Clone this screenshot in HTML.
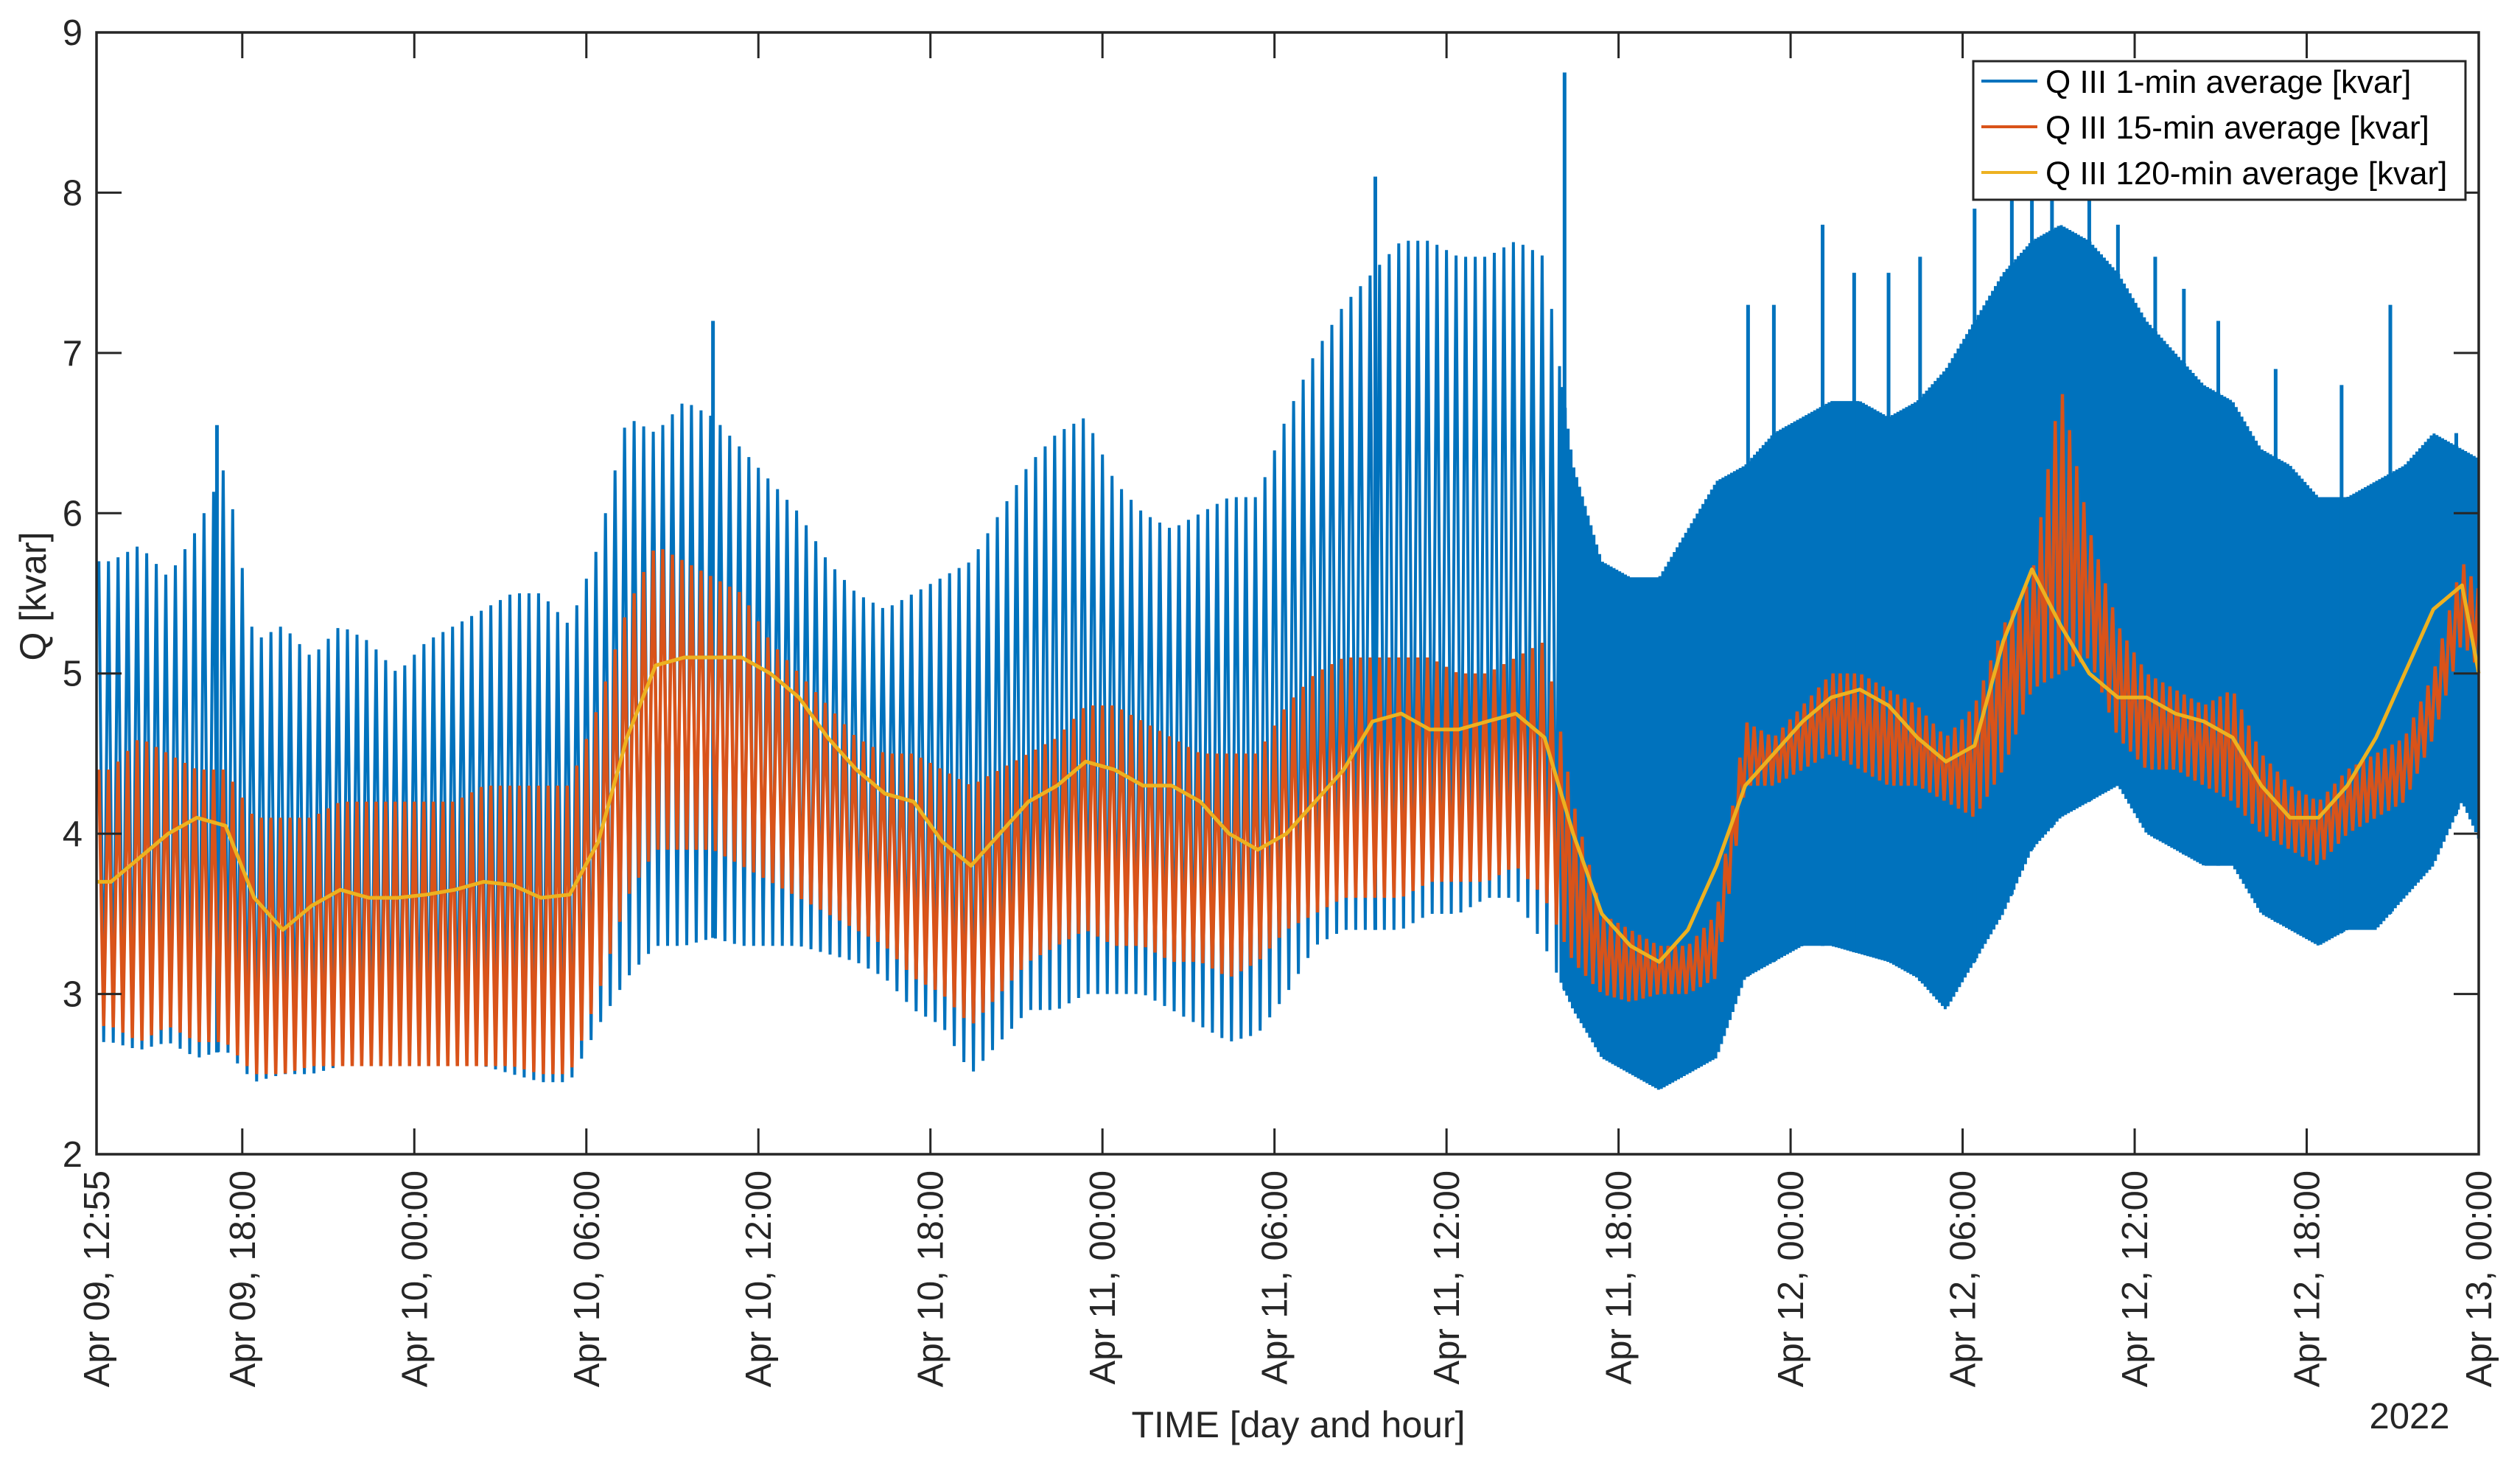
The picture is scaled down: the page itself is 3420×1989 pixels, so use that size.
<!DOCTYPE html>
<html><head><meta charset="utf-8"><style>
html,body{margin:0;padding:0;background:#fff;}
svg{display:block;font-family:"Liberation Sans",Arial,sans-serif;}
</style></head><body>
<svg id="chart" width="3420" height="1989" viewBox="0 0 3420 1989" xmlns="http://www.w3.org/2000/svg">
<rect x="0" y="0" width="3420" height="1989" fill="#fff"/>
<g id="plot"></g>
<g id="axes"></g>
<g id="legend"></g>
</svg>
<script>
// ---- data (hour bins from Apr 09 12:55) ----
const yTicks = [2,3,4,5,6,7,8,9];
const xTickHours = [0,5.0833,11.0833,17.0833,23.0833,29.0833,35.0833,41.0833,47.0833,53.0833,59.0833,65.0833,71.0833,77.0833,83.0833];
const xTickLabels = ["Apr 09, 12:55","Apr 09, 18:00","Apr 10, 00:00","Apr 10, 06:00","Apr 10, 12:00","Apr 10, 18:00","Apr 11, 00:00","Apr 11, 06:00","Apr 11, 12:00","Apr 11, 18:00","Apr 12, 00:00","Apr 12, 06:00","Apr 12, 12:00","Apr 12, 18:00","Apr 13, 00:00"];
const blueHi = [5.7,5.8,5.6,5.9,6.3, 5.2,5.3,5.1,5.3,5.2,5.0, 5.2,5.3,5.4,5.5,5.5,5.3, 5.8,6.6, 6.5,6.7,6.6,6.4, 6.2,6.0,5.7,5.5,5.4,5.5, 5.6,5.7,6.0,6.3,6.5,6.6, 6.2,6.0,5.9,6.0,6.1,6.1, 6.6,7.0,7.3,7.5,7.7,7.7, 7.6,7.6,7.7,7.6, 6.3, 5.7,5.6,5.6, 5.9,6.2, 6.3,6.5,6.6,6.7,6.7,6.6, 6.7,6.9, 7.2,7.5,7.7, 7.8,7.7,7.5, 7.2,7.0,6.8,6.7, 6.4,6.3,6.1, 6.1,6.2,6.3,6.5, 6.4,6.3];
const blueLo = [2.7,2.65,2.7,2.6,2.65, 2.45,2.5,2.5,2.55,2.55,2.55, 2.55,2.55,2.55,2.5,2.45,2.45, 2.8,3.1, 3.3,3.3,3.35,3.3, 3.3,3.3,3.25,3.2,3.1,2.9, 2.8,2.5,2.7,2.9,2.9,3.0, 3.0,3.0,2.9,2.8,2.7,2.75, 3.0,3.3,3.4,3.4,3.4,3.5, 3.5,3.6,3.6,3.3, 2.9, 2.6,2.5,2.4, 2.5,2.6, 3.1,3.2,3.3,3.3,3.25,3.2, 3.1,2.9, 3.2,3.5,3.9, 4.1,4.2,4.3, 4.0,3.9,3.8,3.8, 3.5,3.4,3.3, 3.4,3.4,3.6,3.8, 4.2,3.8];
const blueCycles = [3,3,3,3,3,3,3,3,3,3,3,3,3,3,3,3,3,3,3,3,3,3,3,3,3,3,3,3,3,3,3,3,3,3,3,3,3,3,3,3,3,3,3,3,3,3,3,3,3,3,3,10,10,10,10,10,10,10,10,10,10,10,10,10,10,10,10,10,10,10,10,10,10,10,10,10,10,10,10,10,10,10,10,10];
const spikeHours = [4.2,21.5,44.6,51.2,57.6,58.5,60.2,61.3,62.5,63.6,65.5,66.8,67.5,68.2,69.5,70.5,71.8,72.8,74.0,76.0,78.3,80.0,82.3];
const spikeVals = [6.55,7.2,8.1,8.75,7.3,7.3,7.8,7.5,7.5,7.6,7.9,8.0,8.5,8.2,8.2,7.8,7.6,7.4,7.2,6.9,6.8,7.3,6.5];
const orangeHi = [4.4,4.6,4.5,4.4,4.4, 4.1,4.1,4.1,4.2,4.2,4.2, 4.2,4.2,4.3,4.3,4.3,4.3, 4.8,5.4, 5.8,5.7,5.6,5.5, 5.2,5.0,4.8,4.6,4.5,4.5, 4.4,4.3,4.4,4.5,4.6,4.8, 4.8,4.7,4.6,4.5,4.5,4.5, 4.8,5.0,5.1,5.1,5.1,5.1, 5.0,5.0,5.1,5.2, 4.2, 3.5,3.4,3.3, 3.3,3.5, 4.7,4.6,4.8,5.0,5.0,4.9, 4.8,4.6, 4.8,5.3,5.6, 6.8,5.9,5.3, 5.0,4.9,4.8,4.9, 4.5,4.3,4.2, 4.4,4.5,4.6,5.0, 5.7,5.4];
const orangeLo = [2.8,2.7,2.8,2.7,2.7, 2.5,2.5,2.55,2.55,2.55,2.55, 2.55,2.55,2.55,2.55,2.5,2.5, 3.0,3.6, 3.9,3.9,3.9,3.8, 3.7,3.6,3.5,3.4,3.3,3.1, 3.0,2.8,3.0,3.2,3.3,3.4, 3.3,3.3,3.2,3.2,3.1,3.2, 3.4,3.5,3.6,3.6,3.6,3.7, 3.7,3.7,3.8,3.6, 3.2, 3.0,2.95,3.0, 3.0,3.1, 4.3,4.3,4.4,4.5,4.4,4.3, 4.3,4.2, 4.1,4.4,4.9, 5.0,5.1,4.6, 4.4,4.4,4.3,4.2, 4.0,3.9,3.8, 4.0,4.1,4.2,4.6, 5.2,4.9];
const orangeCycles = [3,3,3,3,3,3,3,3,3,3,3,3,3,3,3,3,3,3,3,3,3,3,3,3,3,3,3,3,3,3,3,3,3,3,3,3,3,3,3,3,3,3,3,3,3,3,3,3,3,3,3,4,4,4,4,4,4,4,4,4,4,4,4,4,4,4,4,4,4,4,4,4,4,4,4,4,4,4,4,4,4,4,4,4];
const yellowVals = [3.7,3.85,4.0,4.1,4.05, 3.6,3.4,3.55,3.65,3.6,3.6, 3.62,3.65,3.7,3.68,3.6,3.62, 3.95,4.6, 5.05,5.1,5.1,5.1, 5.0,4.85,4.6,4.4,4.25,4.2, 3.95,3.8,4.0,4.2,4.3,4.45, 4.4,4.3,4.3,4.2,4.0,3.9, 4.0,4.2,4.4,4.7,4.75,4.65, 4.65,4.7,4.75,4.6, 4.0, 3.5,3.3,3.2, 3.4,3.8, 4.3,4.5,4.7,4.85,4.9,4.8, 4.6,4.45, 4.55,5.2,5.65, 5.3,5.0,4.85, 4.85,4.75,4.7,4.6, 4.3,4.1,4.1, 4.3,4.6,5.0,5.4, 5.55,5.0];

// ---- geometry ----
const L=131, R=3364, T=44, B=1566, HMAX=83.0833, YMIN=2, YMAX=9;
const NS="http://www.w3.org/2000/svg";
function xs(h){return L+(Math.min(h,HMAX)/HMAX)*(R-L);}
function ys(v){return B-(v-YMIN)/(YMAX-YMIN)*(B-T);}
function interp(arr,t){
  const p=t-0.5; const i=Math.floor(p);
  if(i<0) return arr[0];
  if(i>=arr.length-1) return arr[arr.length-1];
  const f=p-i; return arr[i]*(1-f)+arr[i+1]*f;
}
function mk(tag,attrs,parent){const e=document.createElementNS(NS,tag);for(const k in attrs)e.setAttribute(k,attrs[k]);parent.appendChild(e);return e;}
const plot=document.getElementById('plot'), axes=document.getElementById('axes'), legend=document.getElementById('legend');

function zigzag(hi,lo,cyc){
  const pts=[];
  for(let i=0;i<hi.length;i++){
    const n=cyc[i];
    for(let k=0;k<n;k++){
      const h1=i+(k+0.25)/n, h2=i+(k+0.75)/n;
      if(h1<=HMAX) pts.push(xs(h1).toFixed(1)+','+ys(interp(hi,h1)).toFixed(1));
      if(h2<=HMAX) pts.push(xs(h2).toFixed(1)+','+ys(interp(lo,h2)).toFixed(1));
    }
  }
  return pts.join(' ');
}
const blue=mk('polyline',{points:zigzag(blueHi,blueLo,blueCycles),fill:'none',stroke:'#0072BD','stroke-width':4,'stroke-linejoin':'miter'},plot);


for(let i=0;i<spikeHours.length;i++){
  const sp=mk('line',{x1:xs(spikeHours[i]),x2:xs(spikeHours[i]),y1:ys(interp(blueLo,spikeHours[i])),y2:ys(spikeVals[i]),stroke:'#0072BD','stroke-width':5},plot);
  
  
}
const orange=mk('polyline',{points:zigzag(orangeHi,orangeLo,orangeCycles),fill:'none',stroke:'#D95319','stroke-width':4.5},plot);


const ypts=yellowVals.map((v,i)=>xs(i+0.5).toFixed(1)+','+ys(v).toFixed(1));
ypts.unshift(xs(0).toFixed(1)+','+ys(yellowVals[0]).toFixed(1));
const yellow=mk('polyline',{points:ypts.join(' '),fill:'none',stroke:'#EDB120','stroke-width':5,'stroke-linejoin':'round'},plot);



// ---- axes ----
const ax='#262626';
const box=mk('rect',{x:L,y:T,width:R-L,height:B-T,fill:'none',stroke:ax,'stroke-width':3.5},axes);


yTicks.forEach(v=>{
  const y=ys(v);
  mk('line',{x1:L,x2:L+34,y1:y,y2:y,stroke:ax,'stroke-width':3},axes);
  mk('line',{x1:R-34,x2:R,y1:y,y2:y,stroke:ax,'stroke-width':3},axes);
  const t=mk('text',{x:112,y:y+17,'text-anchor':'end','font-size':49,fill:ax},axes);
  t.textContent=v;
  
  
});
xTickHours.forEach((h,i)=>{
  const x=xs(h);
  mk('line',{x1:x,x2:x,y1:B,y2:B-35,stroke:ax,'stroke-width':3},axes);
  mk('line',{x1:x,x2:x,y1:T,y2:T+35,stroke:ax,'stroke-width':3},axes);
  const t=mk('text',{x:0,y:0,'text-anchor':'end','font-size':49,fill:ax,transform:'translate('+(x+17)+',1588) rotate(-90)'},axes);
  t.textContent=xTickLabels[i];
  
  
});
const yl=mk('text',{x:0,y:0,'text-anchor':'middle','font-size':50,fill:ax,transform:'translate(62,809) rotate(-90)'},axes);
yl.textContent='Q [kvar]';


const xl=mk('text',{x:1762,y:1950,'text-anchor':'middle','font-size':50,fill:ax},axes);
xl.textContent='TIME [day and hour]';


const yr=mk('text',{x:3270,y:1938,'text-anchor':'middle','font-size':49,fill:ax},axes);
yr.textContent='2022';



// ---- legend ----
const lb=mk('rect',{x:2678,y:83,width:668,height:188,fill:'#fff',stroke:ax,'stroke-width':3},legend);


const legNames=['Q III 1-min average [kvar]','Q III 15-min average [kvar]','Q III 120-min average [kvar]'];
const legColors=['#0072BD','#D95319','#EDB120'];
const legRows=[110,172,234];
for(let i=0;i<3;i++){
  const g=mk('g',{},legend);
  
  
  mk('line',{x1:2689,x2:2765,y1:legRows[i],y2:legRows[i],stroke:legColors[i],'stroke-width':4},g);
  const t=mk('text',{x:2776,y:legRows[i]+16,'font-size':44,fill:'#000'},g);
  t.textContent=legNames[i];
}
</script>
</body></html>
